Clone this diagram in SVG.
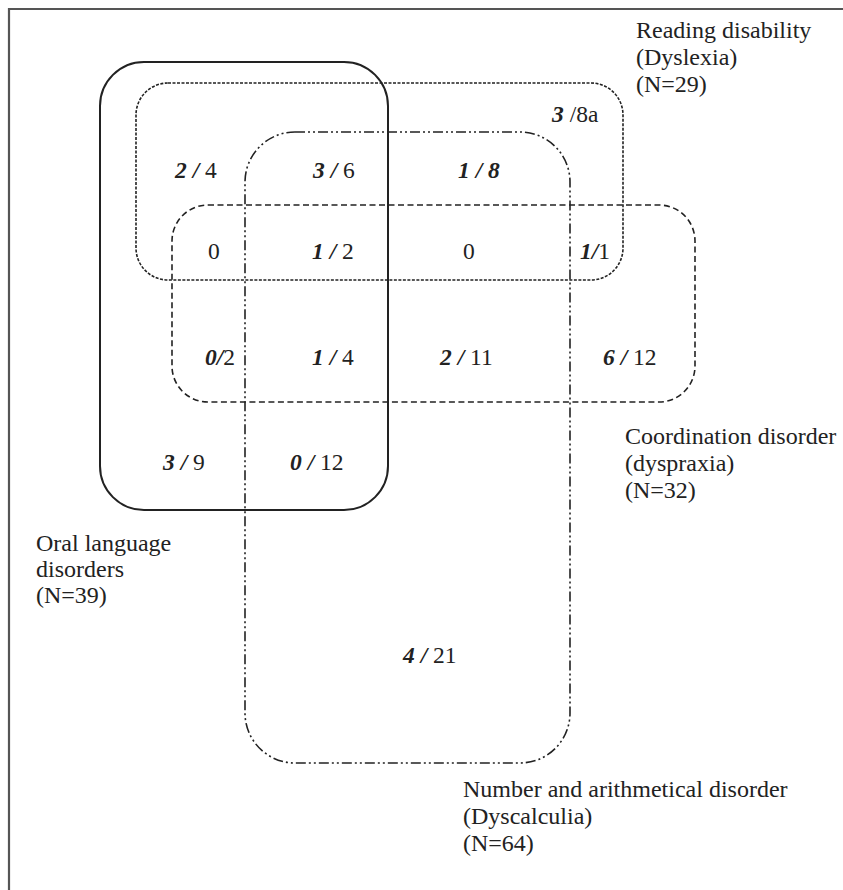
<svg xmlns="http://www.w3.org/2000/svg" width="843" height="890" viewBox="0 0 843 890">
<style>
text{font-family:"Liberation Serif","Times New Roman",serif;font-size:23.5px;fill:#222}
.lbl text{font-size:24px}
.b{font-weight:bold;font-style:italic}
.set{fill:none;stroke:#222}
.oral{stroke-width:2}
.read{stroke-width:1.6;stroke-dasharray:3 1.5}
.coord{stroke-width:1.6;stroke-dasharray:6 3.5}
.calc{stroke-width:1.6;stroke-dasharray:10 3 2 3 2 3}
</style>
<rect width="843" height="890" fill="#fff"/>
<g id="frame"><path d="M9 890 V9 H843" fill="none" stroke="#555" stroke-width="2.2"/></g>
<g id="sets">
<rect id="oral-set" class="set oral" x="100" y="62" width="288" height="448" rx="44"/>
<rect id="reading-set" class="set read" x="136" y="83" width="487" height="197" rx="32"/>
<rect id="calc-set" class="set calc" x="245" y="132" width="325" height="631" rx="50"/>
<rect id="coord-set" class="set coord" x="172" y="205" width="523" height="197" rx="36"/>
</g>
<g id="counts">
<text x="175" y="178"><tspan class="b">2 /</tspan> 4</text>
<text x="313" y="178"><tspan class="b">3 /</tspan> 6</text>
<text x="458" y="178" class="b">1 / 8</text>
<text x="552" y="122"><tspan class="b">3</tspan> /8a</text>
<text x="208" y="259">0</text>
<text x="312" y="259"><tspan class="b">1 /</tspan> 2</text>
<text x="463" y="259">0</text>
<text x="580" y="259"><tspan class="b">1/</tspan>1</text>
<text x="205" y="365"><tspan class="b">0/</tspan>2</text>
<text x="312" y="365"><tspan class="b">1 /</tspan> 4</text>
<text x="440" y="365"><tspan class="b">2 /</tspan> 11</text>
<text x="603" y="365"><tspan class="b">6 /</tspan> 12</text>
<text x="163" y="470"><tspan class="b">3 /</tspan> 9</text>
<text x="290" y="470"><tspan class="b">0 /</tspan> 12</text>
<text x="403" y="663"><tspan class="b">4 /</tspan> 21</text>
</g>
<g id="label-reading" class="lbl">
<text x="636" y="38">Reading disability</text>
<text x="636" y="65">(Dyslexia)</text>
<text x="636" y="92">(N=29)</text>
</g>
<g id="label-coord" class="lbl">
<text x="625" y="444">Coordination disorder</text>
<text x="625" y="471">(dyspraxia)</text>
<text x="625" y="498">(N=32)</text>
</g>
<g id="label-oral" class="lbl">
<text x="36" y="551">Oral language</text>
<text x="36" y="577">disorders</text>
<text x="36" y="603">(N=39)</text>
</g>
<g id="label-calc" class="lbl">
<text x="463" y="797">Number and arithmetical disorder</text>
<text x="463" y="824">(Dyscalculia)</text>
<text x="463" y="851">(N=64)</text>
</g>
</svg>
